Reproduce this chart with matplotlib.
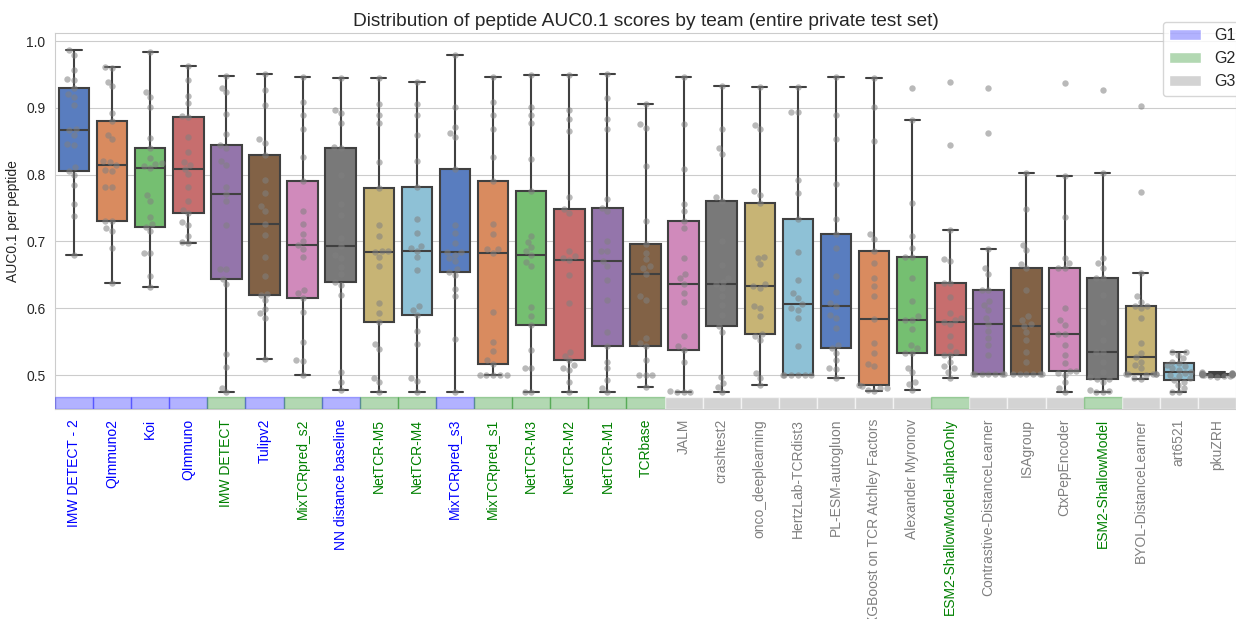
import numpy as np
import pandas as pd
import matplotlib
matplotlib.use("Agg")
import matplotlib.pyplot as plt
import seaborn as sns
from matplotlib.patches import Patch

# team order (sorted by median AUC0.1) and their group
teams = ["IMW DETECT - 2", "QImmuno2", "Koi", "QImmuno", "IMW DETECT", "Tulipv2",
         "MixTCRpred_s2", "NN distance baseline", "NetTCR-M5", "NetTCR-M4",
         "MixTCRpred_s3", "MixTCRpred_s1", "NetTCR-M3", "NetTCR-M2", "NetTCR-M1",
         "TCRbase", "JALM", "crashtest2", "onco_deeplearning", "HertzLab-TCRdist3",
         "PL-ESM-autogluon", "XGBoost on TCR Atchley Factors", "Alexander Myronov",
         "ESM2-ShallowModel-alphaOnly", "Contrastive-DistanceLearner", "ISAgroup",
         "CtxPepEncoder", "ESM2-ShallowModel", "BYOL-DistanceLearner", "art6521", "pkuZRH"]
groups = ["G1", "G1", "G1", "G1", "G2", "G1", "G2", "G1", "G2", "G2",
          "G1", "G2", "G2", "G2", "G2", "G2", "G3", "G3", "G3", "G3",
          "G3", "G3", "G3", "G2", "G3", "G3", "G3", "G2", "G3", "G3", "G3"]

# per-peptide AUC0.1 values
imw_detect_2 = [0.679, 0.738, 0.756, 0.784, 0.800, 0.806, 0.811, 0.845, 0.846, 0.860, 0.867,
                0.869, 0.904, 0.916, 0.920, 0.930, 0.941, 0.943, 0.956, 0.979, 0.986]
qimmuno2 = [0.638, 0.690, 0.715, 0.720, 0.731, 0.731, 0.781, 0.782, 0.806, 0.807, 0.814,
            0.819, 0.820, 0.853, 0.860, 0.881, 0.892, 0.932, 0.939, 0.960, 0.961]
koi = [0.632, 0.648, 0.683, 0.683, 0.715, 0.722, 0.726, 0.737, 0.761, 0.769, 0.810,
       0.813, 0.816, 0.818, 0.825, 0.840, 0.855, 0.901, 0.916, 0.923, 0.984]
qimmuno = [0.697, 0.699, 0.708, 0.725, 0.729, 0.742, 0.747, 0.760, 0.782, 0.801, 0.809,
           0.815, 0.819, 0.834, 0.857, 0.887, 0.888, 0.907, 0.918, 0.941, 0.962]
imw_detect = [0.474, 0.481, 0.512, 0.531, 0.636, 0.644, 0.659, 0.659, 0.724, 0.760, 0.771,
              0.781, 0.815, 0.820, 0.840, 0.844, 0.861, 0.891, 0.923, 0.930, 0.948]
tulipv2 = [0.524, 0.586, 0.593, 0.599, 0.612, 0.620, 0.622, 0.649, 0.676, 0.709, 0.726,
           0.745, 0.753, 0.773, 0.792, 0.830, 0.848, 0.854, 0.904, 0.926, 0.951]
mixtcrpred_s2 = [0.500, 0.521, 0.523, 0.549, 0.595, 0.616, 0.623, 0.628, 0.676, 0.688, 0.695,
                 0.701, 0.711, 0.726, 0.746, 0.790, 0.827, 0.868, 0.890, 0.909, 0.946]
nn_baseline = [0.478, 0.490, 0.505, 0.620, 0.635, 0.640, 0.652, 0.662, 0.675, 0.680, 0.693,
               0.705, 0.740, 0.756, 0.800, 0.840, 0.841, 0.877, 0.892, 0.896, 0.944]
nettcr_m5 = [0.474, 0.489, 0.495, 0.539, 0.547, 0.580, 0.593, 0.608, 0.663, 0.676, 0.684,
             0.685, 0.686, 0.708, 0.724, 0.780, 0.819, 0.878, 0.890, 0.905, 0.944]
nettcr_m4 = [0.474, 0.491, 0.496, 0.546, 0.566, 0.590, 0.598, 0.603, 0.657, 0.676, 0.686,
             0.690, 0.693, 0.712, 0.734, 0.781, 0.820, 0.859, 0.890, 0.905, 0.939]
mixtcrpred_s3 = [0.475, 0.554, 0.618, 0.629, 0.650, 0.655, 0.659, 0.670, 0.675, 0.680, 0.684,
                 0.684, 0.697, 0.713, 0.724, 0.809, 0.856, 0.863, 0.871, 0.901, 0.979]
mixtcrpred_s1 = [0.500, 0.500, 0.500, 0.500, 0.500, 0.517, 0.522, 0.536, 0.549, 0.595, 0.683,
                 0.688, 0.689, 0.711, 0.726, 0.790, 0.827, 0.868, 0.890, 0.909, 0.946]
nettcr_m3 = [0.474, 0.474, 0.510, 0.510, 0.537, 0.575, 0.589, 0.602, 0.663, 0.669, 0.679,
             0.685, 0.691, 0.699, 0.708, 0.775, 0.824, 0.878, 0.890, 0.901, 0.949]
nettcr_m2 = [0.474, 0.489, 0.508, 0.510, 0.515, 0.522, 0.529, 0.535, 0.608, 0.650, 0.672,
             0.675, 0.678, 0.685, 0.742, 0.748, 0.767, 0.865, 0.883, 0.897, 0.949]
nettcr_m1 = [0.474, 0.480, 0.492, 0.510, 0.520, 0.544, 0.564, 0.613, 0.643, 0.663, 0.670,
             0.685, 0.685, 0.700, 0.745, 0.750, 0.764, 0.869, 0.884, 0.914, 0.951]
tcrbase = [0.482, 0.500, 0.500, 0.500, 0.523, 0.543, 0.548, 0.556, 0.613, 0.619, 0.652,
           0.661, 0.663, 0.673, 0.683, 0.696, 0.731, 0.813, 0.870, 0.876, 0.906]
jalm = [0.474, 0.474, 0.474, 0.476, 0.520, 0.538, 0.544, 0.558, 0.610, 0.623, 0.637,
        0.645, 0.651, 0.675, 0.720, 0.731, 0.746, 0.756, 0.808, 0.876, 0.946]
crashtest2 = [0.474, 0.482, 0.488, 0.497, 0.565, 0.574, 0.590, 0.605, 0.618, 0.630, 0.636,
              0.640, 0.645, 0.665, 0.700, 0.761, 0.767, 0.831, 0.840, 0.869, 0.933]
onco_deeplearning = [0.485, 0.495, 0.503, 0.553, 0.559, 0.562, 0.589, 0.600, 0.604, 0.630, 0.633,
                     0.636, 0.666, 0.675, 0.676, 0.758, 0.770, 0.775, 0.869, 0.875, 0.931]
hertzlab_tcrdist3 = [0.500, 0.500, 0.500, 0.500, 0.500, 0.500, 0.543, 0.585, 0.598, 0.600, 0.606,
                     0.616, 0.623, 0.643, 0.684, 0.733, 0.773, 0.792, 0.894, 0.894, 0.931]
pl_esm_autogluon = [0.495, 0.509, 0.510, 0.523, 0.533, 0.541, 0.545, 0.570, 0.585, 0.590, 0.604,
                    0.608, 0.624, 0.648, 0.690, 0.711, 0.733, 0.786, 0.853, 0.890, 0.946]
xgboost_atchley = [0.476, 0.478, 0.480, 0.481, 0.483, 0.485, 0.514, 0.516, 0.533, 0.548, 0.584,
                   0.619, 0.634, 0.645, 0.668, 0.685, 0.704, 0.711, 0.850, 0.901, 0.944]
alexander_myronov = [0.478, 0.486, 0.490, 0.504, 0.511, 0.533, 0.533, 0.540, 0.545, 0.569, 0.583,
                     0.583, 0.588, 0.611, 0.645, 0.676, 0.676, 0.690, 0.708, 0.757, 0.882, 0.929]
esm2_alpha_only = [0.496, 0.505, 0.510, 0.513, 0.519, 0.530, 0.530, 0.535, 0.543, 0.559, 0.576,
                   0.579, 0.583, 0.585, 0.593, 0.617, 0.638, 0.638, 0.671, 0.673, 0.717, 0.844, 0.939]
contrastive_dl = [0.501, 0.501, 0.501, 0.501, 0.501, 0.501, 0.501, 0.530, 0.545, 0.555, 0.566,
                  0.576, 0.585, 0.598, 0.605, 0.611, 0.627, 0.627, 0.652, 0.660, 0.688, 0.862, 0.930]
isagroup = [0.501, 0.501, 0.501, 0.501, 0.501, 0.501, 0.520, 0.535, 0.553, 0.565, 0.574,
            0.577, 0.583, 0.588, 0.628, 0.661, 0.666, 0.687, 0.695, 0.749, 0.802]
ctxpepencoder = [0.475, 0.480, 0.490, 0.500, 0.503, 0.506, 0.506, 0.518, 0.530, 0.545, 0.562,
                 0.562, 0.575, 0.582, 0.600, 0.661, 0.661, 0.668, 0.675, 0.737, 0.798, 0.937]
esm2_shallow = [0.475, 0.475, 0.476, 0.478, 0.490, 0.494, 0.494, 0.497, 0.505, 0.520, 0.534,
                0.534, 0.553, 0.580, 0.620, 0.646, 0.646, 0.661, 0.668, 0.675, 0.802, 0.926]
byol_dl = [0.494, 0.496, 0.500, 0.501, 0.501, 0.501, 0.501, 0.502, 0.510, 0.515, 0.520,
           0.527, 0.533, 0.548, 0.585, 0.600, 0.604, 0.604, 0.610, 0.618, 0.653, 0.774, 0.903]
art6521 = [0.474, 0.475, 0.480, 0.485, 0.490, 0.492, 0.495, 0.498, 0.500, 0.503, 0.505,
           0.508, 0.510, 0.513, 0.515, 0.518, 0.520, 0.525, 0.530, 0.534, 0.535]
pkuzrh = [0.497, 0.498, 0.499, 0.499, 0.500, 0.500, 0.500, 0.501, 0.501, 0.501, 0.501,
          0.501, 0.502, 0.502, 0.502, 0.502, 0.502, 0.503, 0.503, 0.503, 0.504]

all_scores = [imw_detect_2, qimmuno2, koi, qimmuno, imw_detect, tulipv2, mixtcrpred_s2,
              nn_baseline, nettcr_m5, nettcr_m4, mixtcrpred_s3, mixtcrpred_s1, nettcr_m3,
              nettcr_m2, nettcr_m1, tcrbase, jalm, crashtest2, onco_deeplearning,
              hertzlab_tcrdist3, pl_esm_autogluon, xgboost_atchley, alexander_myronov,
              esm2_alpha_only, contrastive_dl, isagroup, ctxpepencoder, esm2_shallow,
              byol_dl, art6521, pkuzrh]

rows = [(t, v) for t, vals in zip(teams, all_scores) for v in vals]
df = pd.DataFrame(rows, columns=["team", "auc"])

group_fill = {"G1": (0, 0, 1, 0.3), "G2": (0, 0.5, 0, 0.3), "G3": "lightgray"}
group_edge = {"G1": (0, 0, 1, 0.3), "G2": (0, 0.5, 0, 0.3), "G3": (1, 1, 1, 0.6)}
label_color = {"G1": "blue", "G2": "green", "G3": "gray"}

sns.set_style("whitegrid")
plt.rcParams["font.family"] = ["Liberation Sans", "DejaVu Sans"]

fig, ax = plt.subplots(figsize=(12.36, 6.19), dpi=100)
fig.subplots_adjust(left=0.0445, right=1.0, top=0.9467, bottom=0.339)

sns.boxplot(data=df, x="team", y="auc", hue="team", order=teams, hue_order=teams,
            palette="muted", legend=False, showfliers=False, width=0.8,
            linecolor="0.25", linewidth=1.5, ax=ax)
sns.swarmplot(data=df, x="team", y="auc", order=teams, color="0.5", alpha=0.55,
              size=4.6, ax=ax)

# group strip along the bottom of the axes
for i, g in enumerate(groups):
    ax.bar(i, 0.0185, bottom=0.449, width=1.0, color=group_fill[g],
           edgecolor=group_edge[g], linewidth=1, zorder=3)

ax.set_xlim(-0.5, len(teams) - 0.5)
ax.set_ylim(0.449, 1.012)
ax.set_yticks([0.5, 0.6, 0.7, 0.8, 0.9, 1.0])
ax.yaxis.grid(True)
ax.xaxis.grid(False)
ax.set_xlabel("")
ax.set_ylabel("AUC0.1 per peptide", fontsize=10)
ax.set_title("Distribution of peptide AUC0.1 scores by team (entire private test set)",
             fontsize=13.8, pad=5)
ax.tick_params(axis="x", length=0, pad=7, labelsize=10, rotation=90)
ax.tick_params(axis="y", length=0, pad=7, labelsize=10)
for lbl, g in zip(ax.get_xticklabels(), groups):
    lbl.set_color(label_color[g])

handles = [Patch(facecolor=group_fill[g], label=g) for g in ["G1", "G2", "G3"]]
ax.legend(handles=handles, loc="upper left", bbox_to_anchor=(1163 / 1236, 1 - 22 / 619),
          bbox_transform=fig.transFigure, borderaxespad=0, fontsize=11.5, frameon=True)

fig.savefig("out.png", dpi=100)
